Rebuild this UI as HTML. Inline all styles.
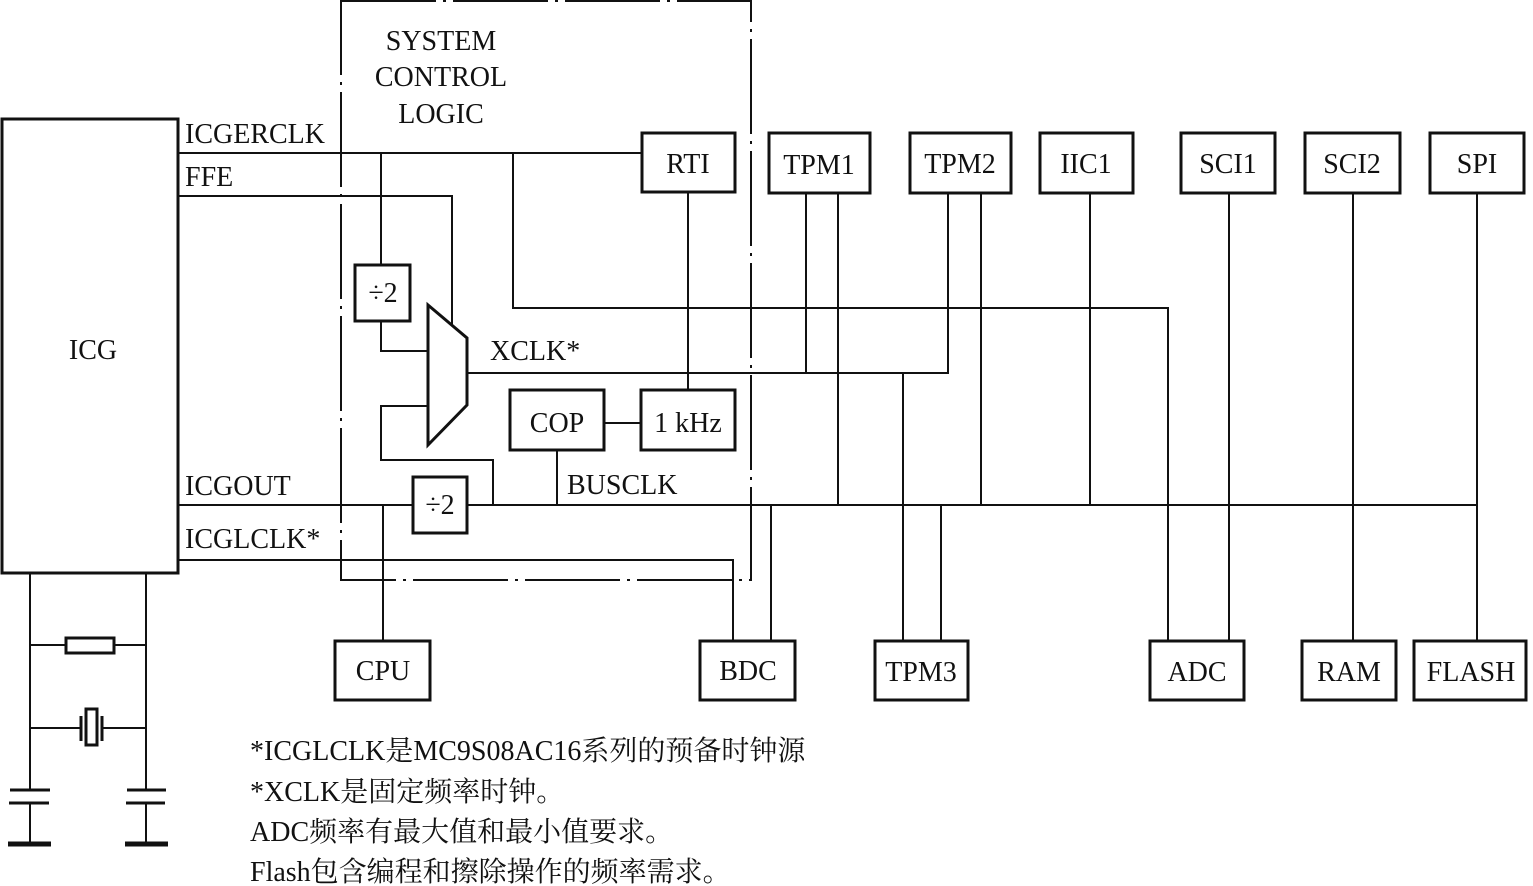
<!DOCTYPE html>
<html><head><meta charset="utf-8"><style>
html,body{margin:0;padding:0;background:#fff;}
svg{display:block;}
text{font-family:"Liberation Serif","Noto Serif CJK SC",serif;fill:#111;}
</style></head><body>
<svg width="1533" height="886" viewBox="0 0 1533 886" xmlns="http://www.w3.org/2000/svg">
<g fill="none" stroke="#111" stroke-width="2">
<!-- dashed system control box -->
<rect x="341" y="1" width="410" height="579" stroke-dasharray="95 7 3 7"/>
</g>
<g fill="#fff" stroke="#111" stroke-width="3">
<rect x="2" y="119" width="176" height="454"/>
<rect x="642" y="133" width="93" height="59"/>
<rect x="769" y="133" width="101" height="60"/>
<rect x="910" y="133" width="101" height="60"/>
<rect x="1040" y="133" width="93" height="60"/>
<rect x="1181" y="133" width="94" height="60"/>
<rect x="1305" y="133" width="95" height="60"/>
<rect x="1430" y="133" width="94" height="60"/>
<rect x="355" y="265" width="55" height="56"/>
<rect x="413" y="477" width="54" height="56"/>
<rect x="510" y="390" width="94" height="60"/>
<rect x="641" y="390" width="94" height="60"/>
<rect x="335" y="641" width="95" height="59"/>
<rect x="700" y="641" width="95" height="59"/>
<rect x="875" y="641" width="93" height="59"/>
<rect x="1150" y="641" width="94" height="59"/>
<rect x="1302" y="641" width="94" height="59"/>
<rect x="1414" y="641" width="112" height="59"/>
<polygon points="428,305 467,338 467,405 428,445"/>
</g>
<g fill="none" stroke="#111" stroke-width="2">
<!-- ICGERCLK -->
<polyline points="178,153 642,153"/>
<polyline points="381,153 381,265"/>
<polyline points="381,321 381,351 428,351"/>
<polyline points="513,153 513,308 1168,308 1168,641"/>
<!-- FFE -->
<polyline points="178,196 452,196 452,324"/>
<!-- mux out -->
<polyline points="467,373 948,373 948,193"/>
<polyline points="806,373 806,193"/>
<polyline points="903,373 903,641"/>
<polyline points="838,193 838,505"/>
<polyline points="981,193 981,505"/>
<polyline points="1090,193 1090,505"/>
<polyline points="1229,193 1229,641"/>
<polyline points="1353,193 1353,641"/>
<polyline points="1477,193 1477,641"/>
<!-- RTI to 1kHz -->
<polyline points="688,192 688,390"/>
<polyline points="604,423 641,423"/>
<polyline points="557,450 557,505"/>
<!-- mux lower input -->
<polyline points="428,406 381,406 381,460 493,460 493,505"/>
<!-- ICGOUT/bus -->
<polyline points="178,505 413,505"/>
<polyline points="467,505 1477,505"/>
<polyline points="383,505 383,641"/>
<polyline points="771,505 771,641"/>
<polyline points="941,505 941,641"/>
<!-- ICGLCLK -->
<polyline points="178,560 733,560 733,641"/>
<!-- crystal circuit -->
<polyline points="30,573 30,790"/>
<polyline points="146,573 146,790"/>
<polyline points="30,645 66,645"/><polyline points="114,645 146,645"/>
<polyline points="30,728 81,728"/><polyline points="102,728 146,728"/>
<polyline points="30,803 30,843"/><polyline points="146,803 146,843"/>
</g>
<g fill="none" stroke="#111" stroke-width="3">
<rect x="66" y="638" width="48" height="15"/>
<rect x="86" y="709" width="11" height="36"/>
<line x1="81" y1="716" x2="81" y2="741"/>
<line x1="102" y1="716" x2="102" y2="741"/>
<line x1="10" y1="790" x2="50" y2="790"/>
<line x1="9" y1="803" x2="49" y2="803"/>
<line x1="127" y1="790" x2="166" y2="790"/>
<line x1="126" y1="803" x2="165" y2="803"/>
</g>
<g stroke="#111" stroke-width="5">
<line x1="8" y1="844" x2="51" y2="844"/>
<line x1="125" y1="844" x2="168" y2="844"/>
</g>
<g font-size="28">
<text x="441" y="50" text-anchor="middle">SYSTEM</text>
<text x="441" y="86" text-anchor="middle">CONTROL</text>
<text x="441" y="123" text-anchor="middle">LOGIC</text>
<text x="185" y="143">ICGERCLK</text>
<text x="185" y="186">FFE</text>
<text x="185" y="495">ICGOUT</text>
<text x="185" y="548">ICGLCLK*</text>
<text x="93" y="359" text-anchor="middle">ICG</text>
<text x="490" y="360">XCLK*</text>
<text x="567" y="494">BUSCLK</text>
<text x="688" y="173" text-anchor="middle">RTI</text>
<text x="819" y="174" text-anchor="middle">TPM1</text>
<text x="960" y="173" text-anchor="middle">TPM2</text>
<text x="1086" y="173" text-anchor="middle">IIC1</text>
<text x="1228" y="173" text-anchor="middle">SCI1</text>
<text x="1352" y="173" text-anchor="middle">SCI2</text>
<text x="1477" y="173" text-anchor="middle">SPI</text>
<text x="383" y="302" text-anchor="middle">÷2</text>
<text x="440" y="514" text-anchor="middle">÷2</text>
<text x="557" y="432" text-anchor="middle">COP</text>
<text x="688" y="432" text-anchor="middle">1 kHz</text>
<text x="383" y="680" text-anchor="middle">CPU</text>
<text x="748" y="680" text-anchor="middle">BDC</text>
<text x="921" y="681" text-anchor="middle">TPM3</text>
<text x="1197" y="681" text-anchor="middle">ADC</text>
<text x="1349" y="681" text-anchor="middle">RAM</text>
<text x="1471" y="681" text-anchor="middle">FLASH</text>
<text x="250" y="760">*ICGLCLK是MC9S08AC16系列的预备时钟源</text>
<text x="250" y="801">*XCLK是固定频率时钟。</text>
<text x="250" y="841">ADC频率有最大值和最小值要求。</text>
<text x="250" y="881">Flash包含编程和擦除操作的频率需求。</text>
</g>
</svg>
</body></html>
